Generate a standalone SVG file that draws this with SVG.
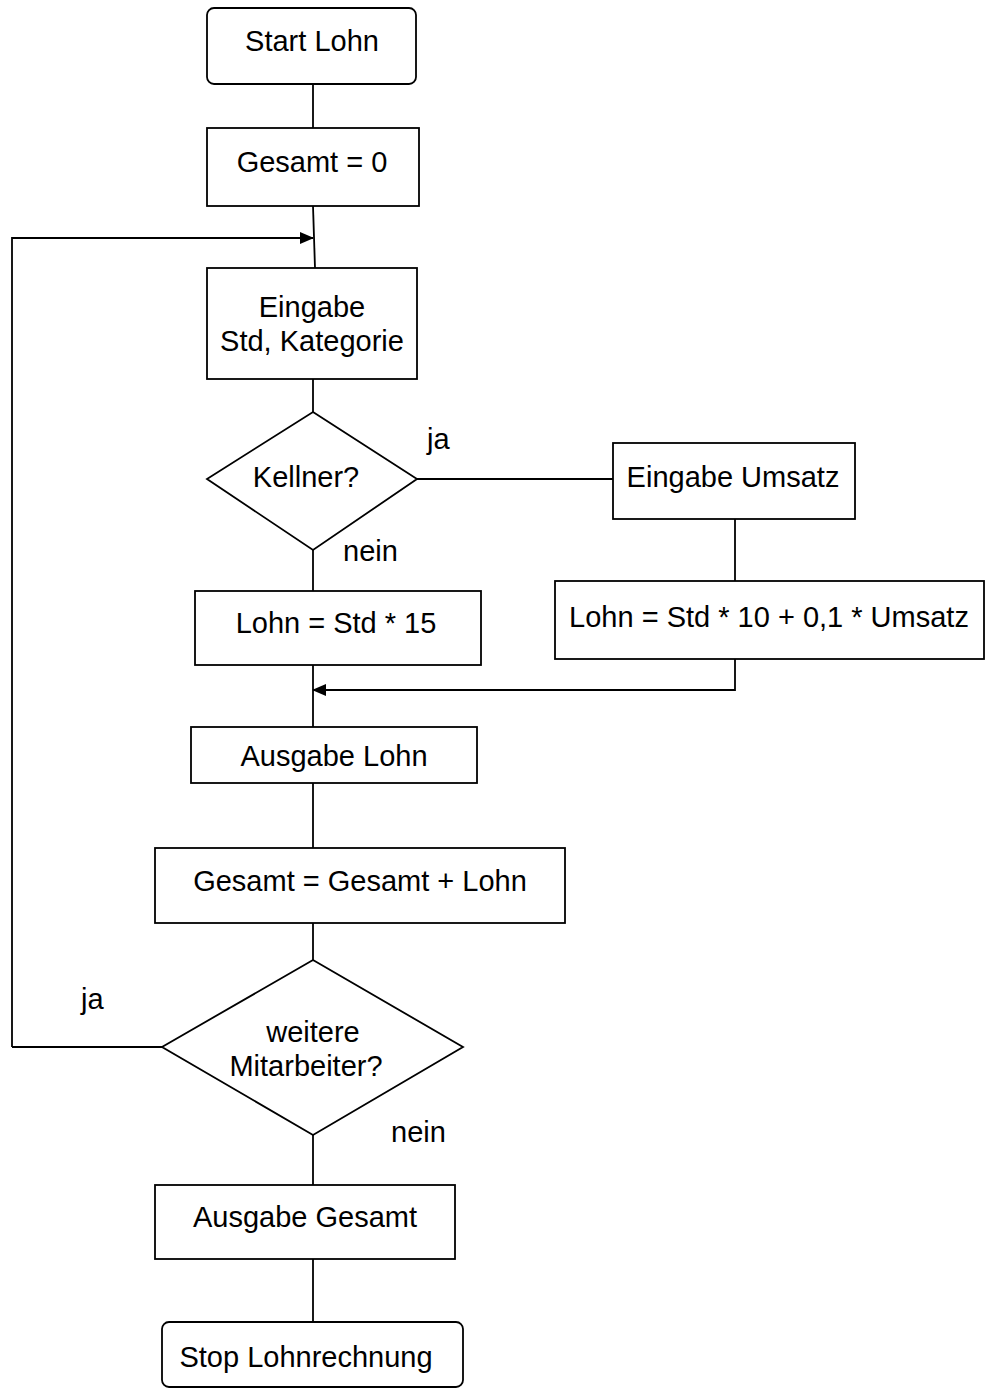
<svg xmlns="http://www.w3.org/2000/svg" width="985" height="1389" viewBox="0 0 985 1389">
<style>
.s{fill:#fff;stroke:#000;stroke-width:1.8}
.c{fill:none;stroke:#000;stroke-width:1.8}
text{font-family:"Liberation Sans",Arial,sans-serif;font-size:29px;fill:#000}
.m{text-anchor:middle}
</style>
<defs>
<marker id="ah" markerWidth="14" markerHeight="12" refX="13" refY="6" orient="auto" markerUnits="userSpaceOnUse">
<path d="M0,0 L14,6 L0,12 z" fill="#000"/>
</marker>
</defs>
<g id="connectors">
<path class="c" d="M313,84 V128"/>
<path class="c" d="M313,206 L315,268"/>
<path class="c" d="M12,1047 V238 H313" marker-end="url(#ah)"/>
<path class="c" d="M313,379 V412"/>
<path class="c" d="M417,479 H613"/>
<path class="c" d="M735,519 V581"/>
<path class="c" d="M735,659 V690 H313" marker-end="url(#ah)"/>
<path class="c" d="M313,550 V591"/>
<path class="c" d="M313,665 V727"/>
<path class="c" d="M313,783 V848"/>
<path class="c" d="M313,923 V960"/>
<path class="c" d="M162,1047 H12"/>
<path class="c" d="M313,1135 V1185"/>
<path class="c" d="M313,1259 V1322"/>
<text x="427" y="449">ja</text>
<text x="343" y="561">nein</text>
<text x="81" y="1009">ja</text>
<text x="391" y="1142">nein</text>
</g>
<g id="start"><rect class="s" x="207" y="8" width="209" height="76" rx="7"/><text class="m" x="312" y="51">Start Lohn</text></g>
<g id="init"><rect class="s" x="207" y="128" width="212" height="78"/><text class="m" x="312" y="172">Gesamt = 0</text></g>
<g id="input"><rect class="s" x="207" y="268" width="210" height="111"/><text class="m" x="312" y="317">Eingabe</text><text class="m" x="312" y="351">Std, Kategorie</text></g>
<g id="kellner"><polygon class="s" points="313,412 417,479 313,550 207,479"/><text class="m" x="306" y="487">Kellner?</text></g>
<g id="umsatz"><rect class="s" x="613" y="443" width="242" height="76"/><text class="m" x="733" y="487">Eingabe Umsatz</text></g>
<g id="lohn10"><rect class="s" x="555" y="581" width="429" height="78"/><text class="m" x="769" y="627">Lohn = Std * 10 + 0,1 * Umsatz</text></g>
<g id="lohn15"><rect class="s" x="195" y="591" width="286" height="74"/><text class="m" x="336" y="633">Lohn = Std * 15</text></g>
<g id="ausgabelohn"><rect class="s" x="191" y="727" width="286" height="56"/><text class="m" x="334" y="766">Ausgabe Lohn</text></g>
<g id="gesamtsum"><rect class="s" x="155" y="848" width="410" height="75"/><text class="m" x="360" y="891">Gesamt = Gesamt + Lohn</text></g>
<g id="weitere"><polygon class="s" points="313,960 463,1047 313,1135 162,1047"/><text class="m" x="313" y="1042">weitere</text><text class="m" x="306" y="1076">Mitarbeiter?</text></g>
<g id="ausgabegesamt"><rect class="s" x="155" y="1185" width="300" height="74"/><text class="m" x="305" y="1227">Ausgabe Gesamt</text></g>
<g id="stop"><rect class="s" x="162" y="1322" width="301" height="65" rx="7"/><text class="m" x="306" y="1367">Stop Lohnrechnung</text></g>
</svg>
